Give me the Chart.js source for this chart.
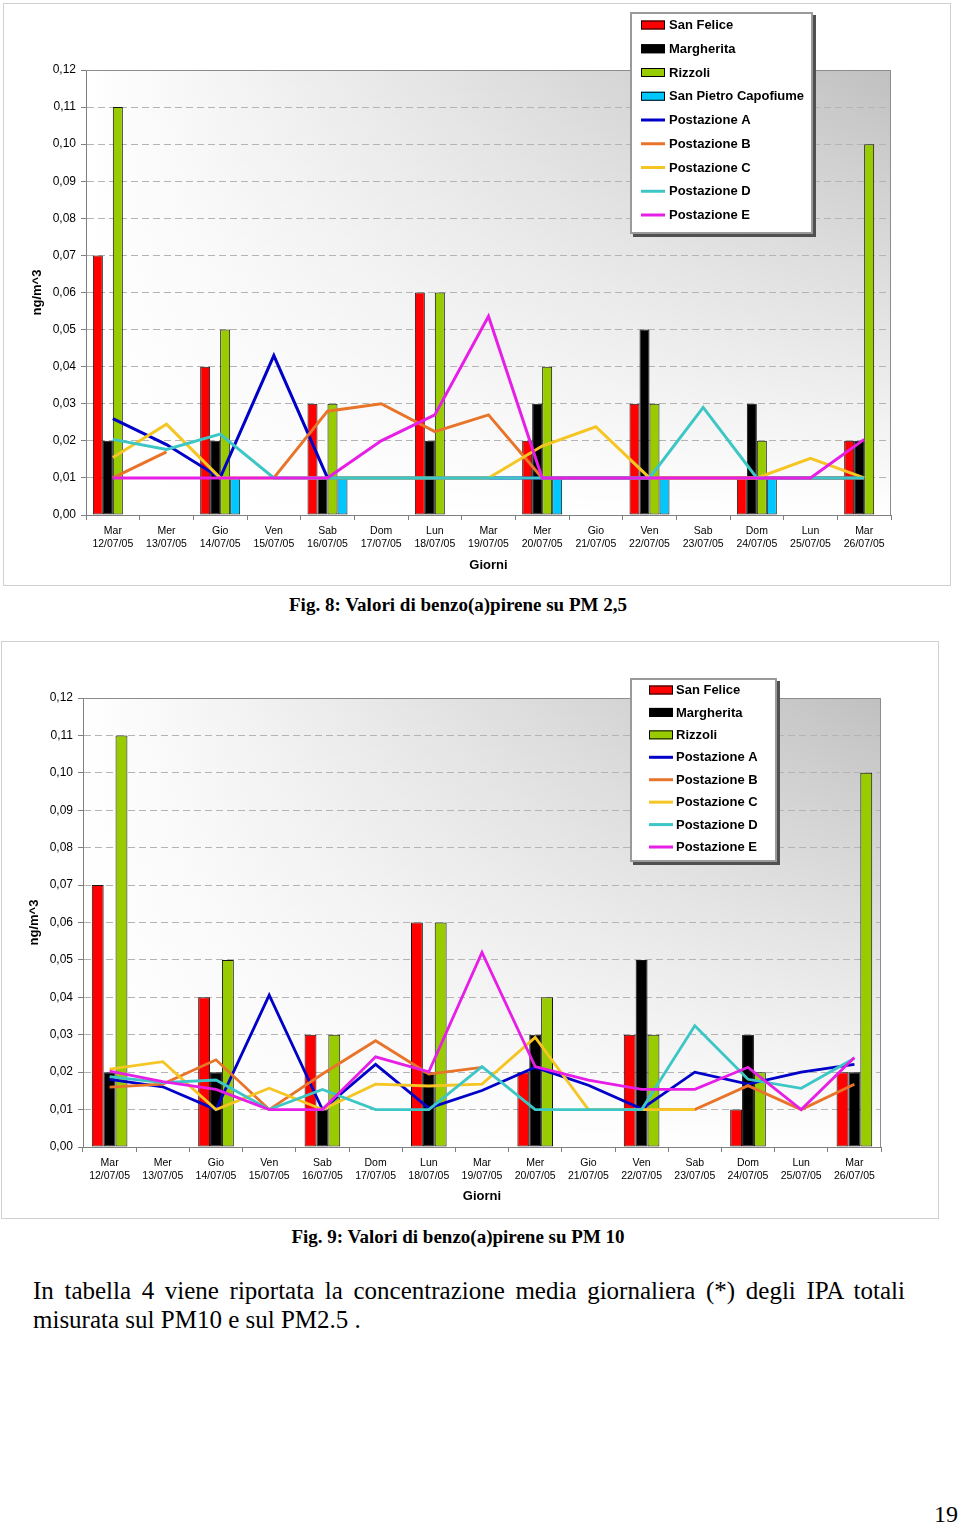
<!DOCTYPE html>
<html>
<head>
<meta charset="utf-8">
<script src="https://cdn.jsdelivr.net/npm/chart.js@4.4.0/dist/chart.umd.min.js"></script>
<style>
  body { margin: 0; background: #fff; width: 960px; height: 1523px; position: relative; overflow: hidden;
         font-family: "Liberation Serif", "Times New Roman", serif; color: #000; }
  .frame { position: absolute; box-sizing: border-box; border: 1px solid #d0d0d0; background: #fff; }
  .frame canvas { display: block; }
  .cap { position: absolute; left: 0; width: 916px; text-align: center; font-weight: bold; font-size: 19px; line-height: 19px; }
  .para { position: absolute; left: 33px; top: 1276px; width: 872px; font-size: 25px; line-height: 29px; text-align: justify; }
  .pnum { position: absolute; right: 2px; top: 1502px; font-size: 24px; line-height: 24px; }
</style>
</head>
<body>

<div class="frame" style="left:3px; top:3px; width:948px; height:583px;">
  <canvas id="pm25" width="946" height="581"></canvas>
</div>
<div class="cap" style="top:595px;">Fig. 8: Valori di benzo(a)pirene su PM 2,5</div>

<div class="frame" style="left:1px; top:641px; width:938px; height:578px;">
  <canvas id="pm10" width="936" height="576"></canvas>
</div>
<div class="cap" style="top:1227px;">Fig. 9: Valori di benzo(a)pirene su PM 10</div>

<div class="para">In tabella 4 viene riportata la concentrazione media giornaliera (*) degli IPA totali misurata sul PM10 e sul PM2.5 .</div>
<div class="pnum">19</div>

<script>
// giorni di campionamento
const days = ['Mar', 'Mer', 'Gio', 'Ven', 'Sab', 'Dom', 'Lun', 'Mar', 'Mer', 'Gio', 'Ven', 'Sab', 'Dom', 'Lun', 'Mar'];
const dates = ['12/07/05', '13/07/05', '14/07/05', '15/07/05', '16/07/05', '17/07/05', '18/07/05', '19/07/05',
               '20/07/05', '21/07/05', '22/07/05', '23/07/05', '24/07/05', '25/07/05', '26/07/05'];
const yTicks = [0, 0.01, 0.02, 0.03, 0.04, 0.05, 0.06, 0.07, 0.08, 0.09, 0.10, 0.11, 0.12];

const barNames = ['San Felice', 'Margherita', 'Rizzoli', 'San Pietro Capofiume'];
const barColors = ['#ff0000', '#000000', '#99cc00', '#00c8ff'];
const lineNames = ['Postazione A', 'Postazione B', 'Postazione C', 'Postazione D', 'Postazione E'];
const lineColors = ['#0000c8', '#e8742a', '#f5c623', '#3cc6c6', '#e61ee6'];

// PM 2,5 (ng/m^3)
const pm25SanFelice  = [0.07, null, 0.04, null, 0.03, null, 0.06, null, 0.02, null, 0.03, null, 0.01, null, 0.02];
const pm25Margherita = [0.02, null, 0.02, null, 0.01, null, 0.02, null, 0.03, null, 0.05, null, 0.03, null, 0.02];
const pm25Rizzoli    = [0.11, null, 0.05, null, 0.03, null, 0.06, null, 0.04, null, 0.03, null, 0.02, null, 0.10];
const pm25SanPietro  = [null, null, 0.01, null, 0.01, null, null, null, 0.01, null, 0.01, null, 0.01, null, null];
const pm25PostA = [0.026, 0.019, 0.010, 0.043, 0.010, 0.010, 0.010, 0.010, 0.010, 0.010, 0.010, 0.010, 0.010, 0.010, 0.010];
const pm25PostB = [0.010, 0.017, null, 0.010, 0.028, 0.030, 0.0225, 0.027, 0.010, 0.010, 0.010, 0.010, 0.010, 0.010, 0.010];
const pm25PostC = [0.0155, 0.0245, 0.010, 0.010, 0.010, 0.010, 0.010, 0.010, 0.0186, 0.0238, 0.010, 0.010, 0.010, 0.0153, 0.010];
const pm25PostD = [0.0204, 0.0177, 0.0218, 0.010, 0.010, 0.010, 0.010, 0.010, 0.010, 0.010, 0.010, 0.029, 0.010, 0.010, 0.010];
const pm25PostE = [0.010, 0.010, 0.010, 0.010, 0.010, 0.020, 0.027, 0.0536, 0.010, 0.010, 0.010, 0.010, 0.010, 0.010, 0.0204];

// PM 10 (ng/m^3)
const pm10SanFelice  = [0.07, null, 0.04, null, 0.03, null, 0.06, null, 0.02, null, 0.03, null, 0.01, null, 0.02];
const pm10Margherita = [0.02, null, 0.02, null, 0.01, null, 0.02, null, 0.03, null, 0.05, null, 0.03, null, 0.02];
const pm10Rizzoli    = [0.11, null, 0.05, null, 0.03, null, 0.06, null, 0.04, null, 0.03, null, 0.02, null, 0.10];
const pm10PostA = [0.0181, 0.0161, 0.010, 0.0406, 0.010, 0.0221, 0.0104, 0.0151, 0.0213, 0.0165, 0.0102, 0.020, 0.0168, 0.020, 0.0221];
const pm10PostB = [0.016, 0.0168, 0.0233, 0.010, 0.0195, 0.0284, 0.0195, 0.0213, null, null, 0.010, 0.010, 0.0164, 0.010, 0.0168];
const pm10PostC = [0.0208, 0.0228, 0.010, 0.0157, 0.010, 0.0168, 0.0163, 0.0168, 0.0293, 0.010, 0.010, 0.010, null, null, null];
const pm10PostD = [0.0188, 0.0172, 0.0179, 0.010, 0.0154, 0.010, 0.010, 0.0215, 0.010, 0.010, 0.010, 0.0324, 0.0181, 0.0157, 0.0237];
const pm10PostE = [0.0203, 0.0175, 0.0154, 0.010, 0.010, 0.0241, 0.0201, 0.052, 0.0215, 0.0179, 0.0154, 0.0154, 0.0213, 0.010, 0.0239];

Chart.defaults.font.family = '"Liberation Sans", Arial, Helvetica, sans-serif';
Chart.defaults.color = '#000';

// sfondo sfumato dell'area del grafico (bianco in basso a sinistra, grigio in alto a destra)
const plotBg = {
    id: 'plotBg',
    beforeDraw(chart) {
        const { ctx, chartArea: a } = chart;
        ctx.save();
        let g = ctx.createLinearGradient(a.left, 0, a.right, 0);
        g.addColorStop(0, '#ffffff');
        g.addColorStop(1, '#c0c0c0');
        ctx.fillStyle = g;
        ctx.fillRect(a.left, a.top, a.width, a.height);
        g = ctx.createLinearGradient(0, a.top, 0, a.bottom);
        g.addColorStop(0, 'rgba(255,255,255,0)');
        g.addColorStop(1, 'rgba(255,255,255,1)');
        ctx.fillStyle = g;
        ctx.fillRect(a.left, a.top, a.width, a.height);
        ctx.restore();
    },
    beforeDatasetsDraw(chart) {
        const { ctx, chartArea: a } = chart;
        ctx.save();
        ctx.strokeStyle = '#8c8c8c';
        ctx.lineWidth = 1;
        ctx.beginPath();
        ctx.moveTo(a.left, a.top + 0.5);
        ctx.lineTo(a.right - 0.5, a.top + 0.5);
        ctx.lineTo(a.right - 0.5, a.bottom);
        ctx.stroke();
        ctx.restore();
    }
};

// legenda in riquadro con ombra, sovrapposta al grafico
const boxLegend = {
    id: 'boxLegend',
    afterDraw(chart, args, o) {
        const ctx = chart.ctx;
        ctx.save();
        ctx.fillStyle = '#505050';
        ctx.fillRect(o.x + 3, o.y + 3, o.w, o.h);
        ctx.fillStyle = '#ffffff';
        ctx.fillRect(o.x, o.y, o.w, o.h);
        ctx.strokeStyle = '#9a9a9a';
        ctx.lineWidth = 2;
        ctx.strokeRect(o.x + 1, o.y + 1, o.w - 2, o.h - 2);
        ctx.font = 'bold 13px "Liberation Sans", Arial, sans-serif';
        ctx.textBaseline = 'middle';
        chart.data.datasets.forEach((ds, i) => {
            const cy = o.rowY + i * o.step;
            if (ds.type === 'bar') {
                ctx.fillStyle = ds.backgroundColor;
                ctx.fillRect(o.symX, cy - 4.5, 24, 9);
                ctx.strokeStyle = '#000';
                ctx.lineWidth = 1;
                ctx.strokeRect(o.symX + 0.5, cy - 4, 23, 8);
            } else {
                ctx.strokeStyle = ds.borderColor;
                ctx.lineWidth = 3;
                ctx.beginPath();
                ctx.moveTo(o.symX, cy);
                ctx.lineTo(o.symX + 24, cy);
                ctx.stroke();
            }
            ctx.fillStyle = '#000';
            ctx.fillText(ds.label, o.textX, cy + 0.5);
        });
        ctx.restore();
    }
};

function buildChart(canvasId, barSeries, lineSeries, geo) {
    const labels = days.map((d, i) => [d, dates[i]]);
    const datasets = [];
    barSeries.forEach((data, i) => {
        datasets.push({
            type: 'bar',
            label: barNames[i],
            data,
            backgroundColor: barColors[i],
            borderColor: '#141414',
            borderWidth: 1,
            borderSkipped: false,
            barPercentage: 1,
            categoryPercentage: geo.catPct,
            order: 10
        });
    });
    lineSeries.forEach((data, i) => {
        datasets.push({
            type: 'line',
            label: lineNames[i],
            data,
            borderColor: lineColors[i],
            backgroundColor: lineColors[i],
            borderWidth: geo.lineW,
            pointRadius: 0,
            tension: 0,
            fill: false,
            spanGaps: false,
            order: 5 - i
        });
    });

    return new Chart(document.getElementById(canvasId), {
        type: 'bar',
        data: { labels, datasets },
        plugins: [plotBg, boxLegend],
        options: {
            responsive: false,
            animation: false,
            events: [],
            layout: { padding: { top: geo.top, right: geo.right, left: 0, bottom: 0 } },
            plugins: {
                legend: { display: false },
                tooltip: { enabled: false },
                boxLegend: geo.legend
            },
            scales: {
                x: {
                    offset: true,
                    grid: { offset: true, drawOnChartArea: false, drawTicks: true, tickLength: 5, color: '#808080', tickColor: '#808080' },
                    border: { color: '#808080', width: 1 },
                    ticks: { color: '#000', font: { size: 10.5, lineHeight: 1.24 }, padding: 4.5, maxRotation: 0, autoSkip: false },
                    title: { display: true, text: 'Giorni', color: '#000', font: { size: 13, weight: 'bold' }, padding: { top: 0, bottom: geo.xTitlePad } },
                    afterFit: (s) => { s.height = geo.xH; }
                },
                y: {
                    min: yTicks[0],
                    max: yTicks[yTicks.length - 1],
                    ticks: {
                        stepSize: yTicks[1] - yTicks[0],
                        color: '#000',
                        font: { size: 12 },
                        padding: 5,
                        callback: (v) => v.toFixed(2).replace('.', ',')
                    },
                    grid: { color: '#b4b4b4', tickColor: '#808080', tickLength: 5 },
                    border: { color: '#808080', width: 1, dash: [7, 4] },
                    title: { display: true, text: 'ng/m^3', color: '#000', font: { size: 13, weight: 'bold' }, padding: { top: geo.yTitlePad, bottom: 0 } },
                    afterFit: (s) => { s.width = geo.yW; }
                }
            }
        }
    });
}

buildChart('pm25',
    [pm25SanFelice, pm25Margherita, pm25Rizzoli, pm25SanPietro],
    [pm25PostA, pm25PostB, pm25PostC, pm25PostD, pm25PostE],
    {
        top: 66, right: 59, yW: 82, xH: 70, xTitlePad: 12, yTitlePad: 26,
        catPct: 0.745, lineW: 3,
        legend: { x: 626, y: 8, w: 183, h: 222, rowY: 21, step: 23.75, symX: 637, textX: 665 }
    });

buildChart('pm10',
    [pm10SanFelice, pm10Margherita, pm10Rizzoli],
    [pm10PostA, pm10PostB, pm10PostC, pm10PostD, pm10PostE],
    {
        top: 56, right: 57, yW: 81, xH: 71, xTitlePad: 14, yTitlePad: 25,
        catPct: 0.67, lineW: 2.8,
        legend: { x: 628, y: 36, w: 147, h: 184, rowY: 48, step: 22.43, symX: 647, textX: 674 }
    });
</script>
</body>
</html>
